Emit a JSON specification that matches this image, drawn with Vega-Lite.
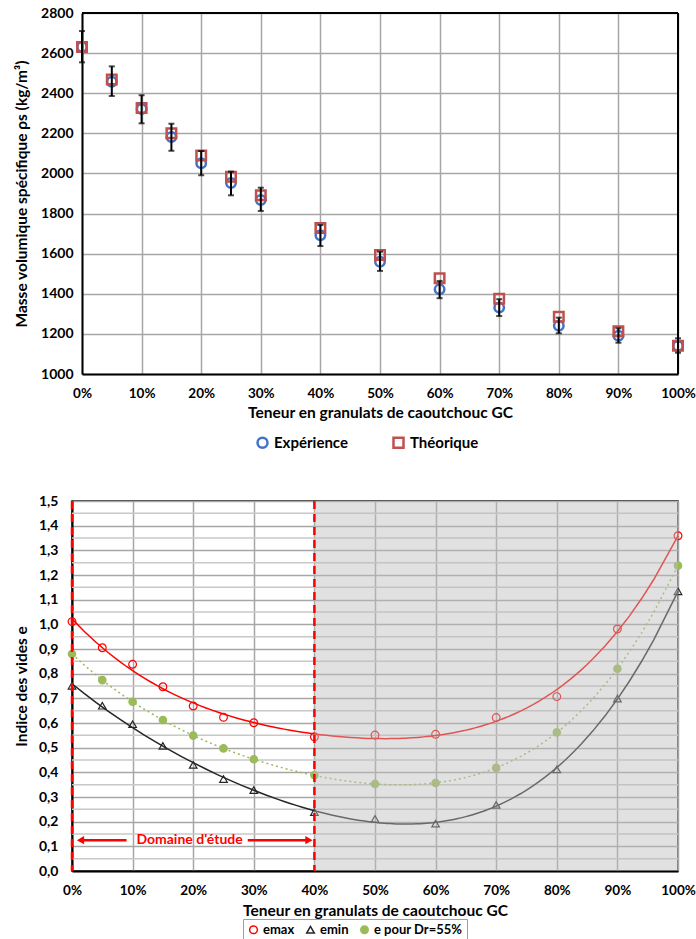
{
  "$schema": "https://vega.github.io/schema/vega-lite/v6.json",
  "padding": {"top": 6, "left": 13, "right": 0, "bottom": 0},
  "background": "white",
  "datasets": {
    "dens": [
      {"x": 0, "Expérience": 2630, "Théorique": 2630, "lo": 2554, "hi": 2710},
      {"x": 5, "Expérience": 2457, "Théorique": 2469, "lo": 2386, "hi": 2534},
      {"x": 10, "Expérience": 2321, "Théorique": 2326, "lo": 2250, "hi": 2390},
      {"x": 15, "Expérience": 2182, "Théorique": 2200, "lo": 2113, "hi": 2248},
      {"x": 20, "Expérience": 2051, "Théorique": 2089, "lo": 1991, "hi": 2112},
      {"x": 25, "Expérience": 1952, "Théorique": 1984, "lo": 1891, "hi": 2009},
      {"x": 30, "Expérience": 1868, "Théorique": 1891, "lo": 1813, "hi": 1929},
      {"x": 40, "Expérience": 1692, "Théorique": 1728, "lo": 1638, "hi": 1743},
      {"x": 50, "Expérience": 1560, "Théorique": 1593, "lo": 1514, "hi": 1610},
      {"x": 60, "Expérience": 1422, "Théorique": 1477, "lo": 1378, "hi": 1464},
      {"x": 70, "Expérience": 1331, "Théorique": 1375, "lo": 1289, "hi": 1373},
      {"x": 80, "Expérience": 1241, "Théorique": 1286, "lo": 1203, "hi": 1281},
      {"x": 90, "Expérience": 1191, "Théorique": 1213, "lo": 1156, "hi": 1228},
      {"x": 100, "Expérience": 1140, "Théorique": 1141, "lo": 1106, "hi": 1178}
    ],
    "voids": [
      {"x": 0, "emax": 1.011, "emin": 0.751, "e pour Dr=55%": 0.880},
      {"x": 5, "emax": 0.905, "emin": 0.670, "e pour Dr=55%": 0.774},
      {"x": 10, "emax": 0.838, "emin": 0.595, "e pour Dr=55%": 0.686},
      {"x": 15, "emax": 0.747, "emin": 0.507, "e pour Dr=55%": 0.612},
      {"x": 20, "emax": 0.669, "emin": 0.430, "e pour Dr=55%": 0.549},
      {"x": 25, "emax": 0.623, "emin": 0.373, "e pour Dr=55%": 0.497},
      {"x": 30, "emax": 0.601, "emin": 0.328, "e pour Dr=55%": 0.453},
      {"x": 40, "emax": 0.544, "emin": 0.239, "e pour Dr=55%": 0.388},
      {"x": 50, "emax": 0.551, "emin": 0.211, "e pour Dr=55%": 0.353},
      {"x": 60, "emax": 0.554, "emin": 0.192, "e pour Dr=55%": 0.357},
      {"x": 70, "emax": 0.622, "emin": 0.268, "e pour Dr=55%": 0.418},
      {"x": 80, "emax": 0.707, "emin": 0.412, "e pour Dr=55%": 0.562},
      {"x": 90, "emax": 0.981, "emin": 0.699, "e pour Dr=55%": 0.820},
      {"x": 100, "emax": 1.359, "emin": 1.134, "e pour Dr=55%": 1.238}
    ],
    "minorGrid": [
      {"y": 0.05}, {"y": 0.15}, {"y": 0.25}, {"y": 0.35}, {"y": 0.45}, {"y": 0.55}, {"y": 0.65}, {"y": 0.75},
      {"y": 0.85}, {"y": 0.95}, {"y": 1.05}, {"y": 1.15}, {"y": 1.25}, {"y": 1.35}, {"y": 1.45}
    ]
  },
  "concat": [
    {
      "width": 606,
      "height": 361,
      "view": {"stroke": null},
      "data": {"name": "dens"},
      "layer": [
        {
          "transform": [{"fold": ["Expérience", "Théorique"], "as": ["serie", "val"]}],
          "mark": {"type": "point", "filled": false, "strokeWidth": 2.5, "size": 90, "opacity": 1},
          "encoding": {
            "x": {"field": "x", "type": "quantitative", "scale": {"domain": [0, 100], "nice": false, "range": [10, 606]},
              "axis": {"title": "Teneur en granulats de caoutchouc GC", "values": [0,10,20,30,40,50,60,70,80,90,100], "tickCount": 40, "labelExpr": "datum.value + '%'", "labelFlush": false, "labelOverlap": false, "labelFontSize": 13.5, "gridColor": "#a6a6a6", "gridWidth": 1.5, "labelPadding": 12, "titlePadding": 6}},
            "y": {"field": "val", "type": "quantitative", "scale": {"domain": [1000, 2800], "nice": false},
              "title": "Masse volumique spécifique ρs (kg/m³)",
              "axis": {"values": [1000,1200,1400,1600,1800,2000,2200,2400,2600,2800], "tickCount": 40, "format": "d", "offset": -10, "labelFlush": false, "labelOverlap": false, "gridColor": "#a6a6a6", "gridWidth": 1.5, "labelPadding": 9, "titlePadding": 11}},
            "shape": {"field": "serie", "type": "nominal", "scale": {"domain": ["Expérience", "Théorique"], "range": ["circle", "square"]},
              "legend": {"title": null, "orient": "none", "legendX": 183, "legendY": 422, "direction": "horizontal", "labelFontSize": 15, "columnPadding": 40, "symbolStrokeWidth": 2.5, "symbolSize": 100}},
            "stroke": {"field": "serie", "type": "nominal", "scale": {"domain": ["Expérience", "Théorique"], "range": ["#4472c4", "#c0504d"]},
              "legend": {"title": null, "orient": "none", "legendX": 183, "legendY": 422, "direction": "horizontal", "labelFontSize": 15, "columnPadding": 40, "symbolStrokeWidth": 2.5, "symbolSize": 100}}
          }
        },
        {
          "mark": {"type": "errorbar", "ticks": {"size": 6, "thickness": 2, "color": "black"}, "thickness": 2, "color": "black"},
          "encoding": {
            "x": {"field": "x", "type": "quantitative"},
            "y": {"field": "lo", "type": "quantitative", "title": "Masse volumique spécifique ρs (kg/m³)"},
            "y2": {"field": "hi"}
          }
        },
        {
          "data": {"values": [{"x1": 0, "x2": 100, "y": 2800}]},
          "mark": {"type": "rule", "color": "black", "strokeWidth": 2},
          "encoding": {
            "x": {"field": "x1", "type": "quantitative"},
            "x2": {"field": "x2"},
            "y": {"field": "y", "type": "quantitative", "title": "Masse volumique spécifique ρs (kg/m³)"}
          }
        },
        {
          "data": {"values": [{"x": 100, "y1": 1000, "y2": 2800}]},
          "mark": {"type": "rule", "color": "black", "strokeWidth": 2},
          "encoding": {
            "x": {"field": "x", "type": "quantitative"},
            "y": {"field": "y1", "type": "quantitative", "title": "Masse volumique spécifique ρs (kg/m³)"},
            "y2": {"field": "y2"}
          }
        }
      ]
    },
    {
      "width": 606,
      "height": 370,
      "data": {"name": "voids"},
      "layer": [
        {
          "data": {"name": "minorGrid"},
          "mark": {"type": "rule", "color": "#c8c8c8", "strokeWidth": 1.5},
          "encoding": {
            "y": {"field": "y", "type": "quantitative", "scale": {"domain": [0, 1.5], "nice": false}, "title": "Indice des vides e",
              "axis": {"values": [0,0.1,0.2,0.3,0.4,0.5,0.6,0.7,0.8,0.9,1,1.1,1.2,1.3,1.4,1.5], "tickCount": 40,
                "labelExpr": "replace(format(datum.value, '.1f'), '.', ',')",
                "labelFlush": false, "labelOverlap": false,
                "gridColor": "#a6a6a6", "gridWidth": 1.5, "labelPadding": 14, "titlePadding": 9}}
          }
        },
        {
          "transform": [{"regression": "emin", "on": "x", "method": "poly", "order": 4, "extent": [0, 100]}],
          "mark": {"type": "line", "color": "#262626", "strokeWidth": 1.5},
          "encoding": {
            "x": {"field": "x", "type": "quantitative", "scale": {"domain": [0, 100], "nice": false},
              "axis": {"title": "Teneur en granulats de caoutchouc GC", "values": [0,10,20,30,40,50,60,70,80,90,100], "tickCount": 40, "labelExpr": "datum.value + '%'", "labelFlush": false, "labelOverlap": false, "labelFontSize": 13.5, "gridColor": "#a6a6a6", "gridWidth": 1.5, "labelPadding": 12, "titlePadding": 7}},
            "y": {"field": "emin", "type": "quantitative", "title": "Indice des vides e"}
          }
        },
        {
          "transform": [{"regression": "emax", "on": "x", "method": "poly", "order": 4, "extent": [0, 100]}],
          "mark": {"type": "line", "color": "#ff0000", "strokeWidth": 1.5},
          "encoding": {
            "x": {"field": "x", "type": "quantitative"},
            "y": {"field": "emax", "type": "quantitative", "title": "Indice des vides e"}
          }
        },
        {
          "transform": [{"regression": "e pour Dr=55%", "on": "x", "method": "poly", "order": 4, "extent": [0, 100]}],
          "mark": {"type": "line", "color": "#9bbb59", "strokeWidth": 1.5, "strokeDash": [2, 3]},
          "encoding": {
            "x": {"field": "x", "type": "quantitative"},
            "y": {"field": "e pour Dr=55%", "type": "quantitative", "title": "Indice des vides e"}
          }
        },
        {
          "transform": [{"fold": ["emax", "emin", "e pour Dr=55%"], "as": ["serie", "val"]}],
          "mark": {"type": "point", "filled": true, "strokeWidth": 1.2, "opacity": 1},
          "encoding": {
            "x": {"field": "x", "type": "quantitative"},
            "y": {"field": "val", "type": "quantitative", "title": "Indice des vides e"},
            "shape": {"field": "serie", "type": "nominal", "scale": {"domain": ["emax", "emin", "e pour Dr=55%"], "range": ["circle", "triangle-up", "circle"]},
              "legend": {"title": null, "orient": "none", "legendX": 171, "legendY": 418, "direction": "horizontal", "labelFontSize": 13, "columnPadding": 8, "labelOffset": 3, "strokeColor": "#a0a0a0", "padding": 4}},
            "stroke": {"field": "serie", "type": "nominal", "scale": {"domain": ["emax", "emin", "e pour Dr=55%"], "range": ["#ff0000", "#262626", "#9bbb59"]},
              "legend": {"title": null, "orient": "none", "legendX": 171, "legendY": 418, "direction": "horizontal", "labelFontSize": 13, "columnPadding": 8, "labelOffset": 3, "strokeColor": "#a0a0a0", "padding": 4}},
            "fill": {"field": "serie", "type": "nominal", "scale": {"domain": ["emax", "emin", "e pour Dr=55%"], "range": ["transparent", "transparent", "#9bbb59"]},
              "legend": {"title": null, "orient": "none", "legendX": 171, "legendY": 418, "direction": "horizontal", "labelFontSize": 13, "columnPadding": 8, "labelOffset": 3, "strokeColor": "#a0a0a0", "padding": 4}},
            "size": {"field": "serie", "type": "nominal", "scale": {"domain": ["emax", "emin", "e pour Dr=55%"], "range": [60, 55, 25]},
              "legend": {"title": null, "orient": "none", "legendX": 171, "legendY": 418, "direction": "horizontal", "labelFontSize": 13, "columnPadding": 8, "labelOffset": 3, "strokeColor": "#a0a0a0", "padding": 4}}
          }
        },
        {
          "data": {"values": [{"x1": 40, "x2": 100, "y1": 0, "y2": 1.5}]},
          "mark": {"type": "rect", "fill": "#bdbdbd", "opacity": 0.45},
          "encoding": {
            "x": {"field": "x1", "type": "quantitative"},
            "x2": {"field": "x2"},
            "y": {"field": "y1", "type": "quantitative", "title": "Indice des vides e"},
            "y2": {"field": "y2"}
          }
        },
        {
          "data": {"values": [{"x": 0}, {"x": 40}]},
          "mark": {"type": "rule", "color": "#ff0000", "strokeWidth": 2.5, "strokeDash": [8, 5]},
          "encoding": {"x": {"field": "x", "type": "quantitative"}}
        },
        {
          "data": {"values": [{"x1": 1.5, "x2": 9, "y": 0.125}, {"x1": 29, "x2": 39, "y": 0.125}]},
          "mark": {"type": "rule", "color": "#ff0000", "strokeWidth": 2.5},
          "encoding": {
            "x": {"field": "x1", "type": "quantitative"},
            "x2": {"field": "x2"},
            "y": {"field": "y", "type": "quantitative", "title": "Indice des vides e"}
          }
        },
        {
          "data": {"values": [{"x": 1.4, "y": 0.125}]},
          "mark": {"type": "point", "shape": "triangle-left", "filled": true, "color": "#ff0000", "size": 70, "opacity": 1},
          "encoding": {
            "x": {"field": "x", "type": "quantitative"},
            "y": {"field": "y", "type": "quantitative", "title": "Indice des vides e"}
          }
        },
        {
          "data": {"values": [{"x": 39.1, "y": 0.125}]},
          "mark": {"type": "point", "shape": "triangle-right", "filled": true, "color": "#ff0000", "size": 70, "opacity": 1},
          "encoding": {
            "x": {"field": "x", "type": "quantitative"},
            "y": {"field": "y", "type": "quantitative", "title": "Indice des vides e"}
          }
        },
        {
          "data": {"values": [{"x": 19.4, "y": 0.125, "label": "Domaine d'étude"}]},
          "mark": {"type": "text", "color": "#ff0000", "font": "Lato", "fontWeight": "bold", "fontSize": 14, "baseline": "middle"},
          "encoding": {
            "x": {"field": "x", "type": "quantitative"},
            "y": {"field": "y", "type": "quantitative", "title": "Indice des vides e"},
            "text": {"field": "label"}
          }
        }
      ]
    }
  ],
  "columns": 1,
  "spacing": 40,
  "resolve": {"scale": {"x": "independent", "y": "independent", "shape": "independent", "color": "independent", "stroke": "independent", "fill": "independent", "size": "independent"}},
  "config": {
    "font": "Lato",
    "view": {"stroke": "black", "strokeWidth": 1.5},
    "axis": {"labelFont": "Lato", "labelFontWeight": "bold", "labelFontSize": 14, "labelColor": "black", "titleFont": "Lato", "titleFontWeight": "bold", "titleFontSize": 15.5, "titleColor": "black", "ticks": false, "domainColor": "black", "domainWidth": 2},
    "legend": {"labelFont": "Lato", "labelFontWeight": "bold", "labelColor": "black"}
  }
}
